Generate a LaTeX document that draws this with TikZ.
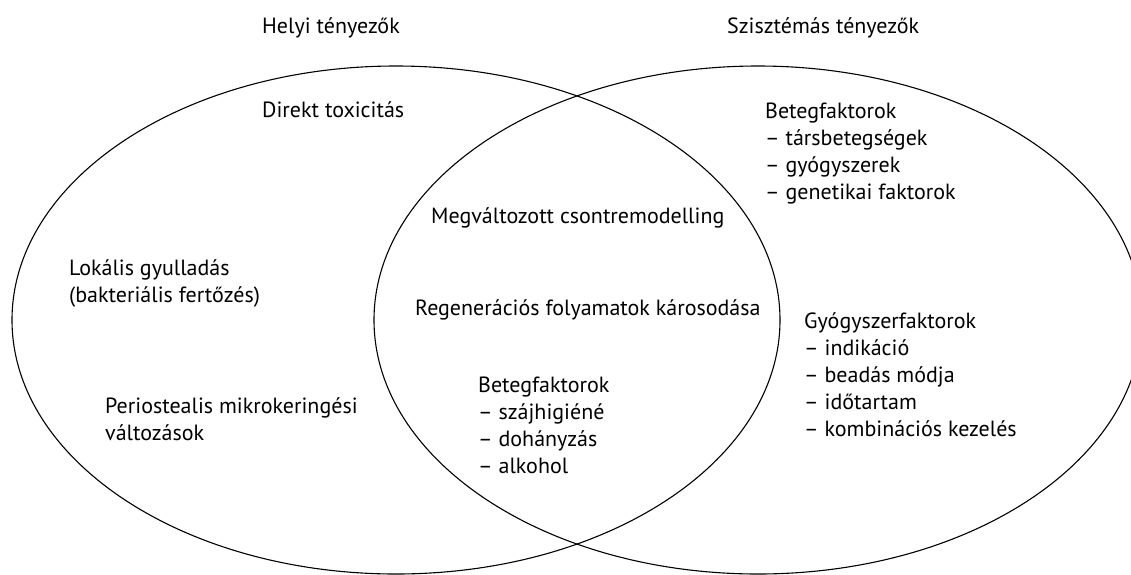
\documentclass[tikz,border=0pt]{standalone}
\usepackage{fontspec}
\setmainfont{PT Sans}
\tikzset{
  circ/.style={draw=black, line width=1.1pt},
  lbl/.style={anchor=north west, inner sep=0pt, align=left,
    font=\fontsize{22pt}{27pt}\selectfont},
}
\newcommand{\fl}{\rule{0pt}{18pt}}
\begin{document}
\begin{tikzpicture}[x=1pt,y=-1pt]
\useasboundingbox (0,0) rectangle (1131,574);
\clip (0,0) rectangle (1131,574);
\draw[circ] (396,320) ellipse [x radius=384pt, y radius=254pt];
\draw[circ] (758,320) ellipse [x radius=384pt, y radius=254pt];
\node[lbl] (helyi) at (262,15) {\fl Helyi tényezők};
\node[lbl] (szisz) at (727,15) {\fl Szisztémás tényezők};
\node[lbl] (direkt) at (262,99) {\fl Direkt toxicitás};
\node[lbl] (beteg1) at (765,100) {\fl Betegfaktorok\\– társbetegségek\\– gyógyszerek\\– genetikai faktorok};
\node[lbl] (megv) at (431,205) {\fl Megváltozott csontremodelling};
\node[lbl] (lokalis) at (69,257) {\fl Lokális gyulladás\\(bakteriális fertőzés)};
\node[lbl] (regen) at (415,297) {\fl Regenerációs folyamatok károsodása};
\node[lbl] (gyogy) at (804,310) {\fl Gyógyszerfaktorok\\– indikáció\\– beadás módja\\– időtartam\\– kombinációs kezelés};
\node[lbl] (perio) at (105,395) {\fl Periostealis mikrokeringési\\változások};
\node[lbl] (beteg2) at (478,374) {\fl Betegfaktorok\\– szájhigiéné\\– dohányzás\\– alkohol};
\end{tikzpicture}
\end{document}
